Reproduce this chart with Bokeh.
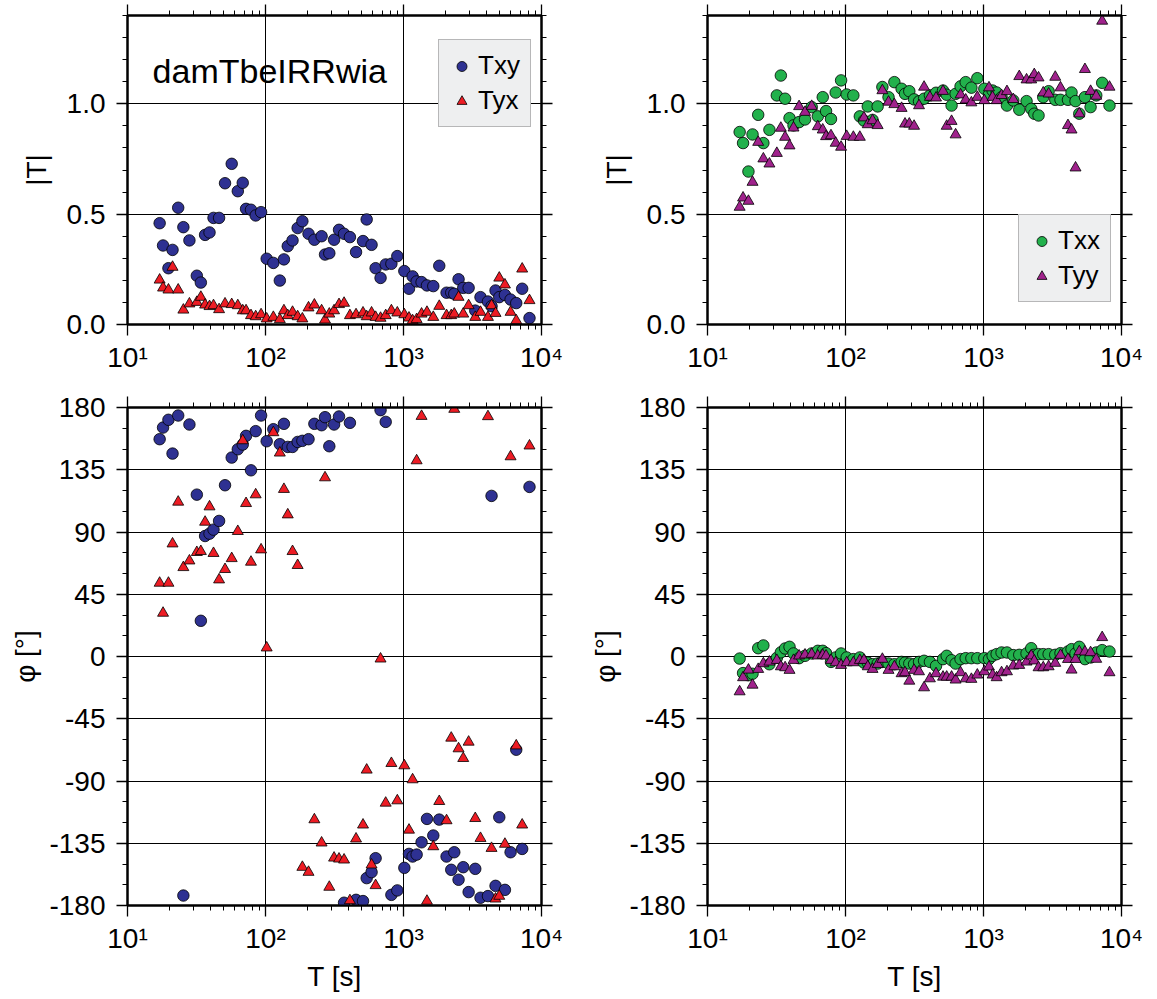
from bokeh.plotting import figure
from bokeh.layouts import gridplot
from bokeh.models import (FixedTicker, LogAxis, LinearAxis, Legend, LegendItem, Label,
                          CustomJSTickFormatter, Range1d)
from bokeh.embed import file_html
from bokeh.resources import INLINE

# ---------------- data ----------------
period = [17.1, 18.1, 19.8, 21.2, 23.3, 25.4, 28.1, 31.8, 34.0, 36.5,
          39.3, 42.0, 46.1, 50.9, 56.9, 63.0, 68.4, 72.3, 78.5, 84.9,
          92.9, 102, 114, 127, 136, 145, 157, 171, 185, 205,
          226, 255, 270, 290, 314, 341, 371, 409, 453, 509,
          541, 587, 628, 682, 743, 817, 902, 1014, 1096, 1164,
          1245, 1352, 1479, 1644, 1816, 2051, 2218, 2333, 2506, 2710,
          2965, 3311, 3614, 4093, 4345, 4645, 4943, 5433, 5970, 6561,
          7244, 8185]

txy_amp = [.459, .358, .255, .338, .529, .441, .381, .221, .190, .406,
           .417, .483, .483, .640, .728, .604, .642, .524, .520, .494,
           .509, .298, .279, .199, .295, .355, .381, .437, .468, .411,
           .384, .400, .317, .323, .384, .429, .411, .396, .328, .378,
           .476, .361, .255, .211, .272, .275, .310, .242, .162, .218,
           .195, .192, .177, .174, .266, .144, .144, .139, .205, .166,
           .166, .063, .124, .104, .083, .154, .124, .134, .113, .097,
           .162, .029]

tyx_amp = [.202, .166, .157, .260, .157, .066, .094, .101, .124, .089,
           .082, .086, .068, .094, .091, .086, .063, .063, .041, .036,
           .045, .026, .033, .023, .063, .041, .056, .036, .026, .076,
           .089, .063, .021, .048, .063, .091, .097, .041, .045, .053,
           .036, .053, .033, .029, .041, .063, .053, .045, .030, .018,
           .023, .048, .056, .033, .083, .041, .041, .048, .124, .048,
           .086, .033, .056, .033, .086, .051, .211, .180, .056, .018,
           .252, .109]

txx_amp = [.872, .822, .693, .861, .950, .822, .882, 1.038, 1.128, 1.023,
           .935, .902, .917, .929, .985, .943, 1.030, .967, .931, 1.051,
           1.106, 1.042, 1.038, .943, .924, .988, .927, .988, 1.076, 1.030,
           1.098, 1.068, 1.045, 1.057, 1.020, 1.011, 1.023, 1.038, 1.050, 1.060,
           1.041, .992, 1.045, 1.079, 1.098, 1.073, 1.116, 1.068, 1.042, 1.060,
           1.051, 1.030, .992, 1.015, .973, 1.012, .977, .955, .947, 1.030,
           1.057, 1.018, 1.018, 1.018, 1.051, 1.012, .955, 1.030, .985, 1.038,
           1.095, .992]

tyy_amp = [.532, .574, .559, .645, .826, .751, .728, .776, .890, .849,
           .810, .891, .988, .962, .989, .897, .882, .852, .856, .822,
           .804, .853, .849, .849, .937, .906, .924, .902, 1.060, 1.008,
           .997, .980, .909, .909, .899, .992, 1.076, 1.030, 1.027, 1.057,
           .899, .921, .860, 1.041, 1.018, 1.005, 1.030, 1.015, 1.073, 1.030,
           1.015, 1.038, 1.056, 1.020, 1.124, 1.109, 1.109, 1.133, 1.118, 1.050,
           1.045, 1.121, 1.073, .902, .882, .710, .955, 1.156, 1.057, 1.035,
           1.375, 1.076]

txy_phase = [157.1, 165.5, 171.1, 146.7, 174.2, -172.8, 167.7, 117.0, 25.8, 87.1,
             88.8, 91.7, 98.0, 123.8, 143.8, 149.8, 153.2, 159.5, 134.6, 162.9,
             174.2, 155.6, 164.3, 153.5, 168.2, 151.5, 151.5, 155.1, 155.9, 157.1,
             168.2, 167.2, 173.0, 152.0, 167.7, 173.5, -178.0, 168.9, -175.9, -176.8,
             -160.2, -155.9, -145.8, 178.1, 169.6, -172.3, -169.1, -152.8, -142.7, -144.6,
             -143.2, -134.3, -117.4, -129.4, -117.9, -144.6, -154.2, -141.5, -161.4, -152.3,
             -170.3, -153.5, -174.4, -173.2, 116.1, -165.8, -116.2, -168.7, -141.5, -67.4,
             -139.1, 122.6]

tyx_phase = [53.1, 31.4, 53.1, 81.5, 111.7, 64.4, 69.2, 75.3, 76.0, 97.2,
             108.3, 74.6, 55.5, 63.0, 70.9, 90.5, 156.1, 110.7, 68.3, 117.0,
             77.2, 6.3, 161.9, 147.2, 120.9, 102.5, 76.0, 65.9, -152.3, -155.9,
             -117.9, -134.7, 129.3, -166.7, -145.6, -146.3, -147.0, -176.4, -131.8, -121.7,
             -82.0, -150.6, -165.5, -1.7, -105.9, -77.2, -104.2, -78.9, -125.4, -89.0,
             141.6, 173.7, -176.8, -137.4, -104.7, -118.6, -58.9, 178.8, -66.6, -73.6,
             -61.8, -117.0, -131.4, 173.5, -138.6, -175.2, -173.2, -135.6, 144.5, -64.5,
             -121.7, 152.3]

txx_phase = [-1.5, -12.0, -13.5, -12.5, 6.0, 8.0, -5.6, -1.0, 3.0, 5.8,
             7.0, 2.2, -1.2, 0.5, 2.2, 4.1, 4.1, 2.4, -3.9, -0.7,
             2.2, -0.7, -1.9, -0.7, -4.4, -4.4, -5.6, -5.1, -3.9, -5.1,
             -5.6, -3.9, -4.4, -5.1, -5.6, -3.9, -3.1, -3.9, -6.8, -1.9,
             0.5, -2.7, -5.1, -1.9, -1.2, -1.2, -1.2, -1.2, -1.9, 0.5,
             1.7, 2.9, 2.9, 1.0, 1.2, 2.2, 6.0, 1.2, 1.7, 1.7,
             1.7, 1.2, 2.4, 3.6, 5.3, 2.2, 7.0, -1.9, -0.7, 2.9,
             4.6, 3.6]

tyy_phase = [-25.4, -15.2, -9.7, -20.6, -9.2, -5.1, -3.9, -2.7, -7.3, -8.0,
             -9.9, -2.7, 0.5, 1.2, 1.7, 0.5, 1.0, 0.5, -2.7, -4.4,
             -6.3, -4.4, -4.4, -2.7, -2.7, -7.3, -9.2, -5.6, -1.9, -9.9,
             -7.3, -12.3, -11.6, -17.7, -9.9, -10.9, -22.5, -16.0, -12.3, -14.8,
             -14.8, -14.8, -16.9, -11.6, -16.0, -16.4, -13.3, -10.9, -7.5, -13.3,
             -15.2, -11.6, -10.9, -6.8, -6.3, -3.9, 0.5, -3.1, -8.0, -8.0,
             -7.3, -4.8, 1.0, -2.0, -9.7, -2.0, 3.6, 3.4, 2.9, -1.9,
             13.8, -11.6]

x_major = [10, 100, 1000, 10000]
x_labels = {10: "10\u00b9", 100: "10\u00b2", 1000: "10\u00b3", 10000: "10\u2074"}
amp_major = [0.0, 0.5, 1.0]
amp_labels = {0.0: "0.0", 0.5: "0.5", 1.0: "1.0"}
phase_major = [-180, -135, -90, -45, 0, 45, 90, 135, 180]
phase_labels = {v: str(v) for v in phase_major}

BLUE = "#2e3192"
RED = "#ed1c24"
GREEN = "#22b14c"
MAGENTA = "#a0228c"
FONT = "Liberation Sans"

x_minor = [m * 10 ** e for e in (1, 2, 3) for m in range(2, 10)]
amp_minor = [round(0.1 * i, 1) for i in range(15)]
phase_minor = list(range(-180, 181, 15))


def style_axis(ax, show_labels=True):
    ax.axis_line_width = 2
    ax.axis_line_color = "black"
    ax.major_tick_line_color = "black"
    ax.minor_tick_line_color = "black"
    ax.major_tick_line_width = 1.3
    ax.minor_tick_line_width = 1
    ax.major_tick_out = 11
    ax.major_tick_in = 0
    ax.minor_tick_out = 5
    ax.minor_tick_in = 0
    ax.major_label_text_font = FONT
    ax.major_label_text_color = "black"
    ax.axis_label_text_font = FONT
    ax.axis_label_text_font_style = "normal"
    ax.axis_label_text_font_size = "28px"
    ax.axis_label_text_color = "black"
    if show_labels:
        ax.major_label_text_font_size = "28px"
    else:
        ax.formatter = CustomJSTickFormatter(code="return ''")
        ax.major_label_text_font_size = "0px"
        ax.major_label_standoff = 0


def make_panel(width, height, bl, br, bt, bb, is_amp, show_xlabel):
    yr = Range1d(0, 1.4) if is_amp else Range1d(-180, 180)
    p = figure(width=width, height=height, x_axis_type="log",
               x_range=Range1d(10, 10000), y_range=yr,
               output_backend="svg", toolbar_location=None,
               min_border_left=bl, min_border_right=br,
               min_border_top=bt, min_border_bottom=bb,
               background_fill_color="white", border_fill_color="white",
               outline_line_color="black", outline_line_width=2)
    xt = FixedTicker(ticks=x_major, minor_ticks=x_minor)
    if is_amp:
        yt = FixedTicker(ticks=amp_major, minor_ticks=amp_minor)
    else:
        yt = FixedTicker(ticks=phase_major, minor_ticks=phase_minor)

    xa = p.xaxis[0]
    xa.ticker = xt
    xa.major_label_overrides = x_labels
    style_axis(xa)
    xa.major_label_standoff = 6
    if show_xlabel:
        xa.axis_label = "T [s]"
        xa.axis_label_standoff = 4

    ya = p.yaxis[0]
    ya.ticker = yt
    style_axis(ya)
    ya.major_label_standoff = 11
    if is_amp:
        ya.major_label_overrides = amp_labels
        ya.axis_label = "|T|"
        ya.axis_label_standoff = 12
    else:
        ya.major_label_overrides = phase_labels
        ya.axis_label = "\u03c6 [\u00b0]"
        ya.axis_label_standoff = 5

    top = LogAxis(ticker=xt)
    style_axis(top, show_labels=False)
    p.add_layout(top, "above")
    right = LinearAxis(ticker=yt)
    style_axis(right, show_labels=False)
    p.add_layout(right, "right")

    p.xgrid.ticker = xt
    p.ygrid.ticker = yt
    for g in (p.xgrid, p.ygrid):
        g.grid_line_color = "black"
        g.grid_line_width = 1
        g.minor_grid_line_color = None
    return p


def add_series(p, y_circ, y_tri, c_col, t_col, names, legend_loc):
    r1 = p.scatter(period, y_circ, marker="circle", size=11.5, fill_color=c_col,
                   line_color="black", line_width=0.8)
    r2 = p.scatter(period, y_tri, marker="triangle", size=11, fill_color=t_col,
                   line_color="black", line_width=0.8)
    if names is not None:
        leg = Legend(items=[LegendItem(label=names[0], renderers=[r1]),
                            LegendItem(label=names[1], renderers=[r2])],
                     location=legend_loc)
        leg.label_text_font = FONT
        leg.label_text_font_size = "26px"
        leg.label_text_color = "black"
        leg.label_height = 30
        leg.glyph_width = 25
        leg.glyph_height = 30
        leg.label_standoff = 4
        leg.spacing = 4
        leg.padding = 10
        leg.margin = 0
        leg.background_fill_color = "#eeeff0"
        leg.background_fill_alpha = 1
        leg.border_line_color = "#7f7f7f"
        leg.border_line_width = 1.5
        p.add_layout(leg)
    return r1, r2


p1 = make_panel(578, 380, 127, 37, 15, 56, True, False)
add_series(p1, txy_amp, tyx_amp, BLUE, RED, ("Txy", "Tyx"), (311, 197))
p1.add_layout(Label(x=15.2, y=1.15, text="damTbeIRRwia", text_font=FONT,
                    text_font_size="34px", text_color="black",
                    text_baseline="alphabetic"))

p2 = make_panel(579, 380, 129, 36, 15, 56, True, False)
add_series(p2, txx_amp, tyy_amp, GREEN, MAGENTA, ("Txx", "Tyy"), (311, 22))

p3 = make_panel(578, 619, 127, 37, 27, 94, False, True)
add_series(p3, txy_phase, tyx_phase, BLUE, RED, None, None)

p4 = make_panel(579, 619, 129, 36, 27, 94, False, True)
add_series(p4, txx_phase, tyy_phase, GREEN, MAGENTA, None, None)

grid = gridplot([[p1, p2], [p3, p4]], toolbar_location=None)

open("out.html", "w").write(file_html(grid, INLINE))
